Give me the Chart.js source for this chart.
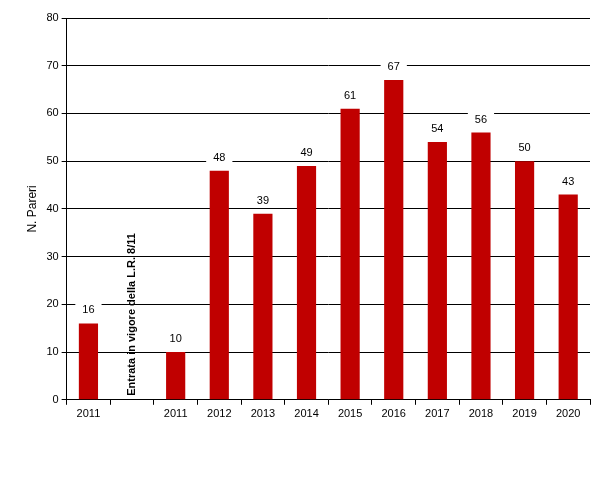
<!DOCTYPE html>
<html>
<head>
<meta charset="utf-8">
<script src="https://cdn.jsdelivr.net/npm/chart.js@4"></script>
<style>
  body { margin: 0; background: #fff; }
  #wrap { width: 606px; height: 480px; }
</style>
</head>
<body>
<div id="wrap"><canvas id="chart"></canvas></div>
<script>
// Dati
const categories = ['2011', '', '2011', '2012', '2013', '2014', '2015', '2016', '2017', '2018', '2019', '2020'];
const pareri = [16, null, 10, 48, 39, 49, 61, 67, 54, 56, 50, 43];
const noteText = 'Entrata in vigore della L.R. 8/11';
const noteIndex = 1;

// Etichette valori con sfondo bianco + nota verticale
const labelsPlugin = {
    id: 'labels',
    afterDatasetsDraw(chart) {
        const ctx = chart.ctx;
        const meta = chart.getDatasetMeta(0);
        ctx.save();
        ctx.font = '11px Arial, "Liberation Sans"';
        ctx.textAlign = 'center';
        ctx.textBaseline = 'middle';
        meta.data.forEach((bar, i) => {
            if (pareri[i] == null) return;
            const y = bar.y - 13;
            const txt = String(pareri[i]);
            const w = ctx.measureText(txt).width + 14;
            ctx.fillStyle = '#fff';
            ctx.fillRect(bar.x - w / 2, y - 7, w, 14);
            ctx.fillStyle = '#000';
            ctx.fillText(txt, bar.x, y);
        });
        const x = chart.scales.x.getPixelForValue(noteIndex);
        ctx.translate(x, chart.chartArea.bottom - 4);
        ctx.rotate(-Math.PI / 2);
        ctx.font = 'bold 11px Arial, "Liberation Sans"';
        ctx.textAlign = 'left';
        ctx.fillText(noteText, 0, 0);
        ctx.restore();
    }
};

new Chart(document.getElementById('chart'), {
    type: 'bar',
    data: {
        labels: categories,
        datasets: [{
            data: pareri,
            backgroundColor: '#c00000',
            barPercentage: 0.44,
            categoryPercentage: 1
        }]
    },
    options: {
        responsive: true,
        maintainAspectRatio: false,
        animation: false,
        layout: { padding: { top: 18, right: 16, bottom: 56, left: 21 } },
        plugins: { legend: { display: false }, tooltip: { enabled: false } },
        scales: {
            x: {
                grid: { display: true, drawOnChartArea: false, offset: true, color: '#000', tickLength: 5 },
                border: { color: '#000' },
                ticks: { color: '#000', font: { size: 11, family: 'Arial' }, maxRotation: 0, autoSkip: false }
            },
            y: {
                min: 0,
                max: 80,
                ticks: { stepSize: 10, color: '#000', font: { size: 11, family: 'Arial' } },
                grid: { color: '#000', tickLength: 5 },
                border: { color: '#000' },
                title: { display: true, text: 'N. Pareri', color: '#000', font: { size: 12, family: 'Arial' } }
            }
        }
    },
    plugins: [labelsPlugin]
});
</script>
</body>
</html>
